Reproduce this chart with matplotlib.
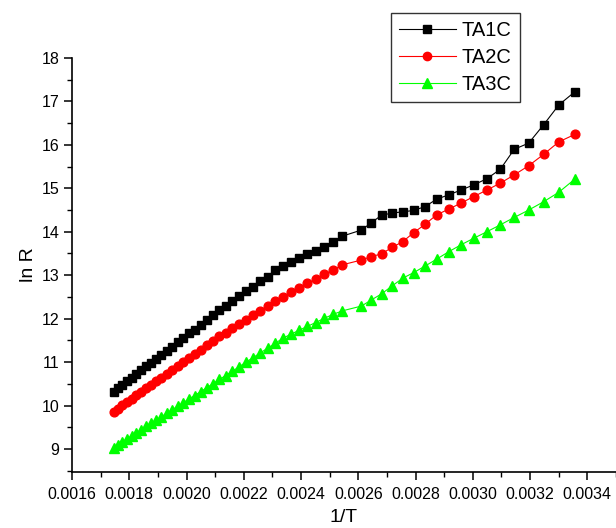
import numpy as np
import matplotlib
matplotlib.use('Agg')
import matplotlib.pyplot as plt
from matplotlib.ticker import MultipleLocator, FormatStrFormatter

plt.rcParams['font.family'] = ['Liberation Sans', 'DejaVu Sans']

# 1/T values (same for all three samples)
inv_t = [0.0017452, 0.0017606, 0.0017762, 0.0017921, 0.0018083, 0.0018248,
         0.0018416, 0.0018587, 0.0018762, 0.0018939, 0.0019120, 0.0019305,
         0.0019493, 0.0019685, 0.0019881, 0.0020080, 0.0020284, 0.0020492,
         0.0020704, 0.0020921, 0.0021142, 0.0021368, 0.0021598, 0.0021834,
         0.0022075, 0.0022321, 0.0022573, 0.0022831, 0.0023095, 0.0023364,
         0.0023641, 0.0023923, 0.0024213, 0.0024510, 0.0024814, 0.0025126,
         0.0025445, 0.0026110, 0.0026455, 0.0026810, 0.0027174, 0.0027548,
         0.0027933, 0.0028329, 0.0028736, 0.0029155, 0.0029586, 0.0030030,
         0.0030488, 0.0030960, 0.0031447, 0.0031949, 0.0032468, 0.0033003,
         0.0033557]

# ln R for each sample
ta1c = [10.32, 10.40, 10.48, 10.57, 10.64, 10.73, 10.81, 10.90, 10.98, 11.08,
        11.16, 11.26, 11.35, 11.46, 11.55, 11.66, 11.75, 11.86, 11.96, 12.08,
        12.19, 12.29, 12.41, 12.51, 12.63, 12.73, 12.86, 12.97, 13.11, 13.21,
        13.31, 13.40, 13.49, 13.56, 13.66, 13.77, 13.90, 14.04, 14.21, 14.38,
        14.43, 14.46, 14.49, 14.58, 14.75, 14.85, 14.96, 15.08, 15.22, 15.44,
        15.90, 16.04, 16.46, 16.92, 17.22]

ta2c = [9.86, 9.93, 10.01, 10.08, 10.16, 10.24, 10.31, 10.40, 10.47, 10.56,
        10.64, 10.73, 10.82, 10.91, 11.00, 11.09, 11.19, 11.28, 11.39, 11.49,
        11.59, 11.68, 11.78, 11.87, 11.98, 12.08, 12.18, 12.30, 12.41, 12.50,
        12.61, 12.70, 12.81, 12.91, 13.02, 13.12, 13.24, 13.35, 13.43, 13.49,
        13.64, 13.77, 13.98, 14.17, 14.39, 14.52, 14.66, 14.81, 14.96, 15.12,
        15.31, 15.52, 15.78, 16.07, 16.24]

ta3c = [9.03, 9.10, 9.16, 9.23, 9.30, 9.37, 9.44, 9.52, 9.59, 9.66,
        9.74, 9.82, 9.90, 9.98, 10.06, 10.15, 10.23, 10.32, 10.41, 10.50,
        10.60, 10.69, 10.79, 10.89, 11.00, 11.10, 11.21, 11.32, 11.43, 11.55,
        11.64, 11.73, 11.82, 11.91, 12.01, 12.10, 12.18, 12.29, 12.43, 12.57,
        12.75, 12.93, 13.06, 13.21, 13.37, 13.54, 13.70, 13.85, 14.00, 14.16,
        14.33, 14.50, 14.69, 14.91, 15.21]


def main():
    fig = plt.figure(figsize=(6.16, 5.28), dpi=100)
    ax = fig.add_axes([0.1169, 0.1061, 0.8831, 0.784])

    ax.plot(inv_t, ta1c, color='black', marker='s', markersize=6, linewidth=0.8, label='TA1C')
    ax.plot(inv_t, ta2c, color='red', marker='o', markersize=6.3, linewidth=0.8, label='TA2C')
    ax.plot(inv_t, ta3c, color='#00ff00', marker='^', markersize=7, linewidth=0.8, label='TA3C')

    ax.set_xlim(0.0016, 0.0035)
    ax.set_ylim(8.47, 18.0)

    ax.xaxis.set_minor_locator(MultipleLocator(0.0001))
    ax.xaxis.set_major_formatter(FormatStrFormatter('%.4f'))
    ax.set_xticks(np.arange(0.0016, 0.00341, 0.0002))
    ax.yaxis.set_minor_locator(MultipleLocator(0.5))
    ax.set_yticks(np.arange(9, 18.1, 1))

    for side in ['top', 'right']:
        ax.spines[side].set_visible(False)
    for side in ['left', 'bottom']:
        ax.spines[side].set_linewidth(1.2)

    ax.tick_params(which='major', direction='out', length=6, width=1.1, labelsize=11.5, pad=3)
    ax.tick_params(which='minor', direction='out', length=3.5, width=1.0)
    ax.tick_params(axis='x', which='major', pad=5)

    ax.set_xlabel('1/T', fontsize=14, labelpad=5)
    ax.set_ylabel('ln R', fontsize=14, labelpad=3)

    leg = fig.legend(loc='upper left', bbox_to_anchor=(0.635, 0.975), fontsize=14.5,
                     numpoints=1, handlelength=2.8, handletextpad=0.3, labelspacing=0.38,
                     fancybox=False, framealpha=1, edgecolor='#333333', borderaxespad=0,
                     borderpad=0.4, markerscale=0.95)
    leg.get_frame().set_linewidth(1.0)

    fig.savefig('out.png', dpi=100)


if __name__ == '__main__':
    main()
